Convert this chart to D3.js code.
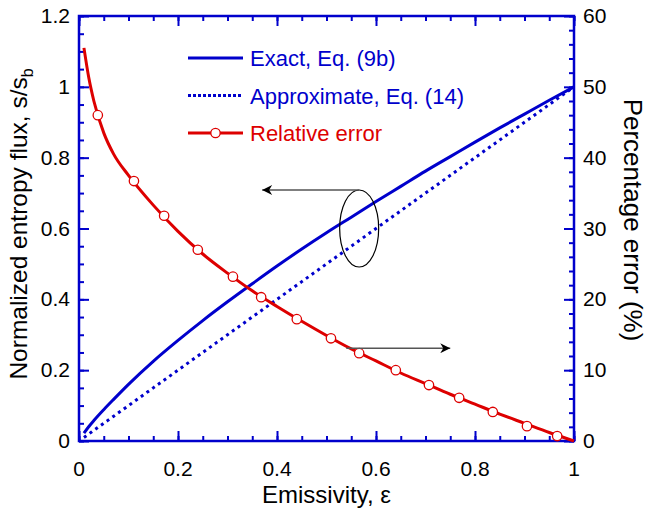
<!DOCTYPE html>
<html>
<head>
<meta charset="utf-8">
<script src="https://cdn.jsdelivr.net/npm/d3@7"></script>
<style>
  body { margin: 0; background: #fff; }
  text { font-family: "Liberation Sans", Arial, Helvetica, sans-serif; }
</style>
</head>
<body>
<script>
// data
var eps      = [0.01, 0.02, 0.03, 0.05, 0.07, 0.1, 0.15, 0.2, 0.25, 0.3, 0.35, 0.4, 0.45, 0.5, 0.55, 0.6, 0.65, 0.7, 0.75, 0.8, 0.85, 0.9, 0.95, 1.0];
var exact    = [0.0225, 0.041, 0.0577, 0.0885, 0.1176, 0.16, 0.225, 0.284, 0.34, 0.393, 0.444, 0.494, 0.542, 0.588, 0.632, 0.676, 0.719, 0.762, 0.803, 0.844, 0.884, 0.923, 0.962, 1.0];
var approx   = [0.01, 0.02, 0.03, 0.05, 0.07, 0.1, 0.15, 0.2, 0.25, 0.3, 0.35, 0.4, 0.45, 0.5, 0.55, 0.6, 0.65, 0.7, 0.75, 0.8, 0.85, 0.9, 0.95, 1.0];
var relErr   = [55.5, 51.2, 48.0, 43.5, 40.5, 37.5, 33.3, 29.6, 26.4, 23.7, 21.2, 19.0, 16.9, 14.9, 13.0, 11.3, 9.6, 8.1, 6.6, 5.2, 3.8, 2.5, 1.2, 0];
var markEps  = [0.038, 0.111, 0.172, 0.24, 0.311, 0.368, 0.44, 0.509, 0.566, 0.64, 0.707, 0.768, 0.836, 0.905, 0.966];
var markErr  = [46.0, 36.7, 31.8, 27.0, 23.2, 20.3, 17.2, 14.5, 12.4, 10.0, 7.9, 6.1, 4.1, 2.1, 0.7];
var xTicks   = [0, 0.2, 0.4, 0.6, 0.8, 1];
var yTicks   = [0, 0.2, 0.4, 0.6, 0.8, 1, 1.2];
var y2Ticks  = [0, 10, 20, 30, 40, 50, 60];
var legendNames = ["Exact, Eq. (9b)", "Approximate, Eq. (14)", "Relative error"];

var width = 646;
var height = 515;
var margin = {top: 16, right: 72, bottom: 74, left: 79};
var innerWidth = width - margin.left - margin.right;
var innerHeight = height - margin.top - margin.bottom;

var blue = "#0000cc";
var red = "#dd0000";

var svg = d3.select("body")
  .append("svg")
    .attr("width", width)
    .attr("height", height);

const g = svg.append("g")
    .attr("transform", "translate(" + margin.left + ", " + margin.top + ")");

//Scales
var x = d3.scaleLinear().domain([0, 1]).range([0, innerWidth]);
var y = d3.scaleLinear().domain([0, 1.2]).range([innerHeight, 0]);
var y2 = d3.scaleLinear().domain([0, 60]).range([innerHeight, 0]);

//Ticks (inward, major + minor)
var xMinor = d3.range(0, 1.0001, 0.05);
var yMinor = d3.range(0, 1.2001, 0.05);
var y2Minor = d3.range(0, 60.001, 2);

// bottom
g.append("g").attr("transform", "translate(0," + innerHeight + ")")
  .call(d3.axisTop(x).tickValues(xMinor).tickSize(5).tickFormat(""));
g.append("g").attr("transform", "translate(0," + innerHeight + ")")
  .call(d3.axisTop(x).tickValues(xTicks).tickSize(10).tickFormat(""));
// top
g.append("g").call(d3.axisBottom(x).tickValues(xMinor).tickSize(5).tickFormat(""));
g.append("g").call(d3.axisBottom(x).tickValues(xTicks).tickSize(10).tickFormat(""));
// left
g.append("g").call(d3.axisRight(y).tickValues(yMinor).tickSize(5).tickFormat(""));
g.append("g").call(d3.axisRight(y).tickValues(yTicks).tickSize(10).tickFormat(""));
// right
g.append("g").attr("transform", "translate(" + innerWidth + ",0)")
  .call(d3.axisLeft(y2).tickValues(y2Minor).tickSize(5).tickFormat(""));
g.append("g").attr("transform", "translate(" + innerWidth + ",0)")
  .call(d3.axisLeft(y2).tickValues(y2Ticks).tickSize(10).tickFormat(""));

g.selectAll(".domain").remove();
g.selectAll(".tick line").attr("stroke", blue).attr("stroke-width", 2);

// frame
g.append("rect")
  .attr("width", innerWidth)
  .attr("height", innerHeight)
  .attr("fill", "none")
  .attr("stroke", blue)
  .attr("stroke-width", 2.5);

//Tick labels
g.selectAll(".xt").data(xTicks).enter().append("text")
  .attr("x", d => x(d))
  .attr("y", innerHeight + 35)
  .attr("text-anchor", "middle")
  .attr("font-size", 21)
  .text(d => d3.format("")(d));

g.selectAll(".yt").data(yTicks).enter().append("text")
  .attr("x", -9)
  .attr("y", d => y(d) + 7)
  .attr("text-anchor", "end")
  .attr("font-size", 21)
  .text(d => d3.format("")(d));

g.selectAll(".y2t").data(y2Ticks).enter().append("text")
  .attr("x", innerWidth + 9)
  .attr("y", d => y2(d) + 7)
  .attr("text-anchor", "start")
  .attr("font-size", 21)
  .text(d => d);

//Axis titles
g.append("text")
  .attr("x", innerWidth / 2)
  .attr("y", innerHeight + 62)
  .attr("text-anchor", "middle")
  .attr("font-size", 24)
  .text("Emissivity, ε");

const yTitle = g.append("text")
  .attr("transform", "rotate(-90)")
  .attr("x", -208)
  .attr("y", -52)
  .attr("text-anchor", "middle")
  .attr("font-size", 24.5);
yTitle.append("tspan").text("Normalized entropy flux, s/s");
yTitle.append("tspan").attr("font-size", 16).attr("dy", 6).text("b");

g.append("text")
  .attr("transform", "translate(" + (innerWidth + 50) + "," + 204 + ") rotate(90)")
  .attr("text-anchor", "middle")
  .attr("font-size", 26)
  .text("Percentage error (%)");

//Curves
var lineExact = d3.line().x((d, i) => x(eps[i])).y(d => y(d)).curve(d3.curveMonotoneX);
var lineErr = d3.line().x((d, i) => x(eps[i])).y(d => y2(d)).curve(d3.curveMonotoneX);

g.append("path")
  .attr("d", lineExact(exact))
  .attr("fill", "none")
  .attr("stroke", blue)
  .attr("stroke-width", 3);

g.append("path")
  .attr("d", lineExact(approx))
  .attr("fill", "none")
  .attr("stroke", blue)
  .attr("stroke-width", 3)
  .attr("stroke-dasharray", "3,4");

g.append("path")
  .attr("d", lineErr(relErr))
  .attr("fill", "none")
  .attr("stroke", red)
  .attr("stroke-width", 3);

g.selectAll(".mk").data(markErr).enter().append("circle")
  .attr("cx", (d, i) => x(markEps[i]))
  .attr("cy", d => y2(d))
  .attr("r", 4.7)
  .attr("fill", "#fff")
  .attr("stroke", red)
  .attr("stroke-width", 1.3);

//Annotations
svg.append("defs").append("marker")
  .attr("id", "arrow")
  .attr("viewBox", "0 0 10 10")
  .attr("refX", 10).attr("refY", 5)
  .attr("markerWidth", 16).attr("markerHeight", 10)
  .attr("markerUnits", "userSpaceOnUse")
  .attr("orient", "auto")
  .append("path")
    .attr("d", "M0,0 L10,5 L0,10 L3,5 Z")
    .attr("fill", "#000");

var ex = x(0.566), ey = y(0.6);
g.append("ellipse")
  .attr("cx", ex).attr("cy", ey)
  .attr("rx", 19.5).attr("ry", 38.5)
  .attr("fill", "none")
  .attr("stroke", "#000")
  .attr("stroke-width", 1.2);

g.append("line")
  .attr("x1", ex).attr("y1", ey - 38.5)
  .attr("x2", x(0.37)).attr("y2", ey - 38.5)
  .attr("stroke", "#555")
  .attr("stroke-width", 1.5)
  .attr("marker-end", "url(#arrow)");

g.append("line")
  .attr("x1", x(0.54)).attr("y1", y2(13.1))
  .attr("x2", x(0.75)).attr("y2", y2(13.1))
  .attr("stroke", "#555")
  .attr("stroke-width", 1.5)
  .attr("marker-end", "url(#arrow)");

//Legend
var legend = g.selectAll(".legend").data(legendNames).enter().append("g")
  .attr("transform", (d, i) => "translate(" + (109) + "," + (42 + i * 37.5) + ")");

legend.append("line")
  .attr("x1", 0).attr("x2", 55)
  .attr("stroke", (d, i) => i < 2 ? blue : red)
  .attr("stroke-width", 3)
  .attr("stroke-dasharray", (d, i) => i === 1 ? "3,2" : null);

legend.filter((d, i) => i === 2).append("circle")
  .attr("cx", 27.5).attr("r", 4.7)
  .attr("fill", "#fff").attr("stroke", red).attr("stroke-width", 1.3);

legend.append("text")
  .attr("x", 62)
  .attr("y", 8)
  .attr("font-size", 22)
  .attr("fill", (d, i) => i < 2 ? blue : red)
  .text(d => d);
</script>
</body>
</html>
